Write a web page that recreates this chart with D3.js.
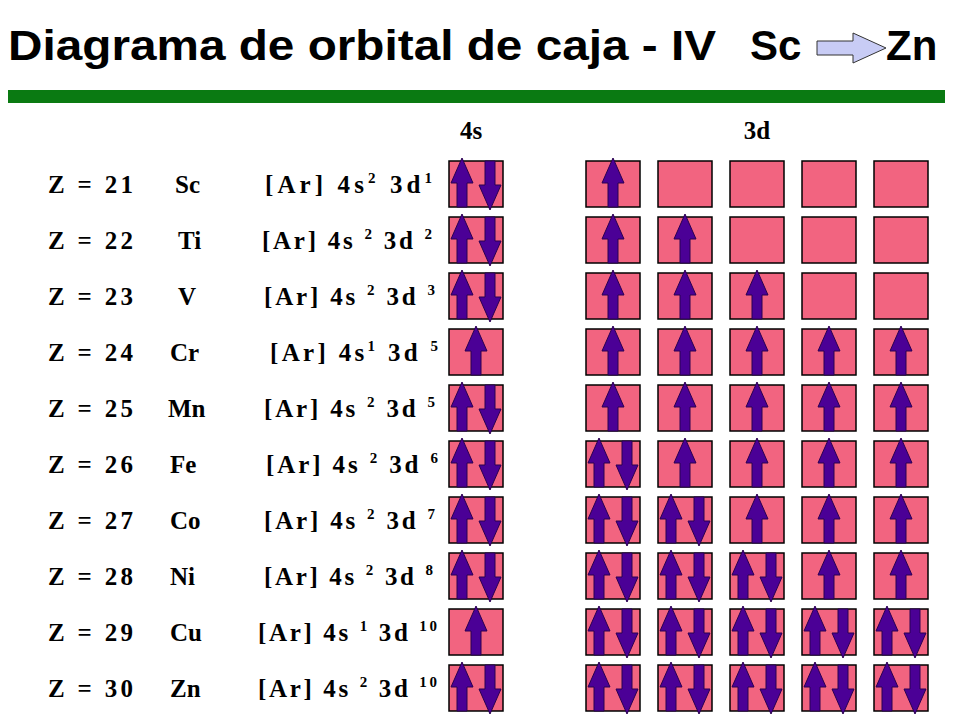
<!DOCTYPE html><html><head><meta charset="utf-8"><script src="https://d3js.org/d3.v7.min.js"></script>
<style>body{margin:0;background:#fff}</style></head><body><svg width="960" height="720"></svg>
<script>
const zNumbers=[21,22,23,24,25,26,27,28,29,30];
const symbols=["Sc","Ti","V","Cr","Mn","Fe","Co","Ni","Cu","Zn"];
const sElectrons=[2,2,2,1,2,2,2,2,1,2];
const dElectrons=[1,2,3,5,5,6,7,8,10,10];
const configs=[["[Ar] 4s","2"," 3d","1"],["[Ar] 4s ","2"," 3d ","2"],["[Ar] 4s ","2"," 3d ","3"],["[Ar] 4s","1"," 3d ","5"],["[Ar] 4s ","2"," 3d ","5"],["[Ar] 4s ","2"," 3d ","6"],["[Ar] 4s ","2"," 3d ","7"],["[Ar] 4s ","2"," 3d ","8"],["[Ar] 4s ","1"," 3d ","10"],["[Ar] 4s ","2"," 3d ","10"]];
const configX=[265,262,264,270,264,266,264,264,258,258];
const configEnd=[432,432,435,438,435,438,435,433,437,437];
const symX=[175,178,178,170,168,170,170,170,170,170];
const svg=d3.select("svg");
svg.append("text").attr("x",8).attr("y",60).attr("font-family","Liberation Sans").attr("font-weight","bold").attr("font-size",42).attr("textLength",708).attr("lengthAdjust","spacingAndGlyphs").text("Diagrama de orbital de caja - IV");
svg.append("text").attr("x",750).attr("y",60).attr("font-family","Liberation Sans").attr("font-weight","bold").attr("font-size",42).text("Sc");
svg.append("text").attr("x",886).attr("y",60).attr("font-family","Liberation Sans").attr("font-weight","bold").attr("font-size",42).text("Zn");
svg.append("path").attr("d","M817,41 L853,41 L853,33 L886,48 L853,63 L853,55 L817,55 Z").attr("fill","#c8ccf5").attr("stroke","#333").attr("stroke-width",1);
svg.append("rect").attr("x",8).attr("y",90).attr("width",937).attr("height",13).attr("fill","#0a7a12");
const tf="Liberation Serif";
svg.append("text").attr("x",471).attr("y",139).attr("text-anchor","middle").attr("font-family",tf).attr("font-weight","bold").attr("font-size",25).text("4s");
svg.append("text").attr("x",757).attr("y",139).attr("text-anchor","middle").attr("font-family",tf).attr("font-weight","bold").attr("font-size",25).text("3d");
const y=d3.scaleLinear().domain([0,9]).range([161,665]);
const dx=d3.scaleLinear().domain([0,4]).range([586,874]);
const W=54,H=46;
function up(g,cx,top){g.append("path").attr("d",`M${cx},${top-3} L${cx+11},${top+22} L${cx+5},${top+22} L${cx+5},${top+H} L${cx-5},${top+H} L${cx-5},${top+22} L${cx-11},${top+22} Z`).attr("fill","#4b0096").attr("stroke","#2a0050").attr("stroke-width",1);}
function down(g,cx,top){g.append("path").attr("d",`M${cx},${top+H+3} L${cx+11},${top+H-22} L${cx+5},${top+H-22} L${cx+5},${top} L${cx-5},${top} L${cx-5},${top+H-22} L${cx-11},${top+H-22} Z`).attr("fill","#4b0096").attr("stroke","#2a0050").attr("stroke-width",1);}
function box(x,top,n){const g=svg.append("g");g.append("rect").attr("x",x).attr("y",top).attr("width",W).attr("height",H).attr("fill","#f26480").attr("stroke","#000").attr("stroke-width",1.5);
 if(n===1)up(g,x+W/2,top);if(n===2){up(g,x+13,top);down(g,x+W-13,top);} }
zNumbers.forEach((z,i)=>{const top=y(i);const base=top+32;
 svg.append("text").attr("x",48).attr("y",base).attr("font-family",tf).attr("font-weight","bold").attr("font-size",25).attr("textLength",85).attr("lengthAdjust","spacing").text("Z = "+z);
 svg.append("text").attr("x",symX[i]).attr("y",base).attr("font-family",tf).attr("font-weight","bold").attr("font-size",25).text(symbols[i]);
 const t=svg.append("text").attr("x",configX[i]).attr("y",base).attr("font-family",tf).attr("font-weight","bold").attr("font-size",25).attr("textLength",configEnd[i]-configX[i]).attr("lengthAdjust","spacing");
 const c=configs[i];t.append("tspan").text(c[0]);t.append("tspan").attr("dy",-10).attr("font-size",15).text(c[1]);t.append("tspan").attr("dy",10).text(c[2]);t.append("tspan").attr("dy",-10).attr("font-size",15).text(c[3]);
 box(449,top,sElectrons[i]);
 const d=dElectrons[i];
 for(let k=0;k<5;k++){const n=(d<=5)?(k<d?1:0):(k<d-5?2:1);box(dx(k),top,n);}
});
</script></body></html>
